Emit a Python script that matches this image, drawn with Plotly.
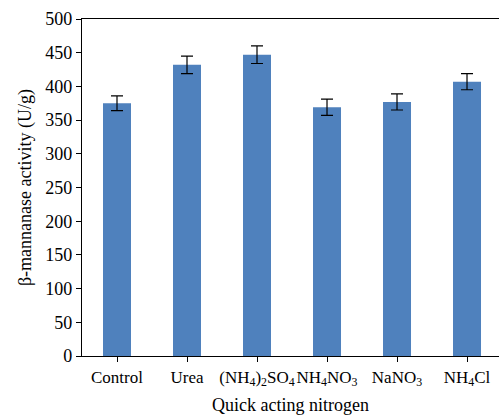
import plotly.graph_objects as go

# Nitrogen sources and measured enzyme activity
categories = ["Control", "Urea", "(NH<sub>4</sub>)<sub>2</sub>SO<sub>4</sub>",
              "NH<sub>4</sub>NO<sub>3</sub>", "NaNO<sub>3</sub>", "NH<sub>4</sub>Cl"]
activity = [375, 432, 447, 369, 377, 407]
activity_err = [11, 13, 13, 12, 12, 12]
y_ticks = [0, 50, 100, 150, 200, 250, 300, 350, 400, 450, 500]

FONT = "Liberation Serif, Times New Roman, serif"
BAR_COLOR = "#4F81BD"

fig = go.Figure(
    go.Bar(
        x=list(range(len(categories))),
        y=activity,
        width=0.4,
        marker=dict(color=BAR_COLOR, line=dict(width=0)),
        error_y=dict(type="data", array=activity_err, color="black",
                     thickness=1.2, width=6),
    )
)

fig.update_layout(
    width=499,
    height=417,
    margin=dict(l=82, r=0, t=19, b=61),
    plot_bgcolor="white",
    paper_bgcolor="white",
    showlegend=False,
    font=dict(family=FONT, size=18, color="black"),
)

fig.update_xaxes(
    tickmode="array",
    tickvals=list(range(len(categories))),
    ticktext=categories,
    tickangle=0,
    automargin=False,
    range=[-0.5, 5.457],
    showline=True,
    linecolor="black",
    linewidth=1.2,
    mirror=True,
    ticks="outside",
    tickson="boundaries",
    ticklen=5,
    tickcolor="black",
    showgrid=False,
    zeroline=False,
    tickfont=dict(size=17),
    title=dict(text="Quick acting nitrogen", font=dict(size=18), standoff=10),
)

fig.update_yaxes(
    range=[0, 500],
    tickmode="array",
    tickvals=y_ticks,
    automargin=False,
    showline=True,
    linecolor="black",
    linewidth=1.2,
    ticks="outside",
    ticklen=5,
    tickcolor="black",
    showgrid=False,
    zeroline=False,
    tickfont=dict(size=18),
    title=dict(text="β-mannanase activity (U/g)", font=dict(size=18), standoff=8),
)

fig.write_html("out.html")
